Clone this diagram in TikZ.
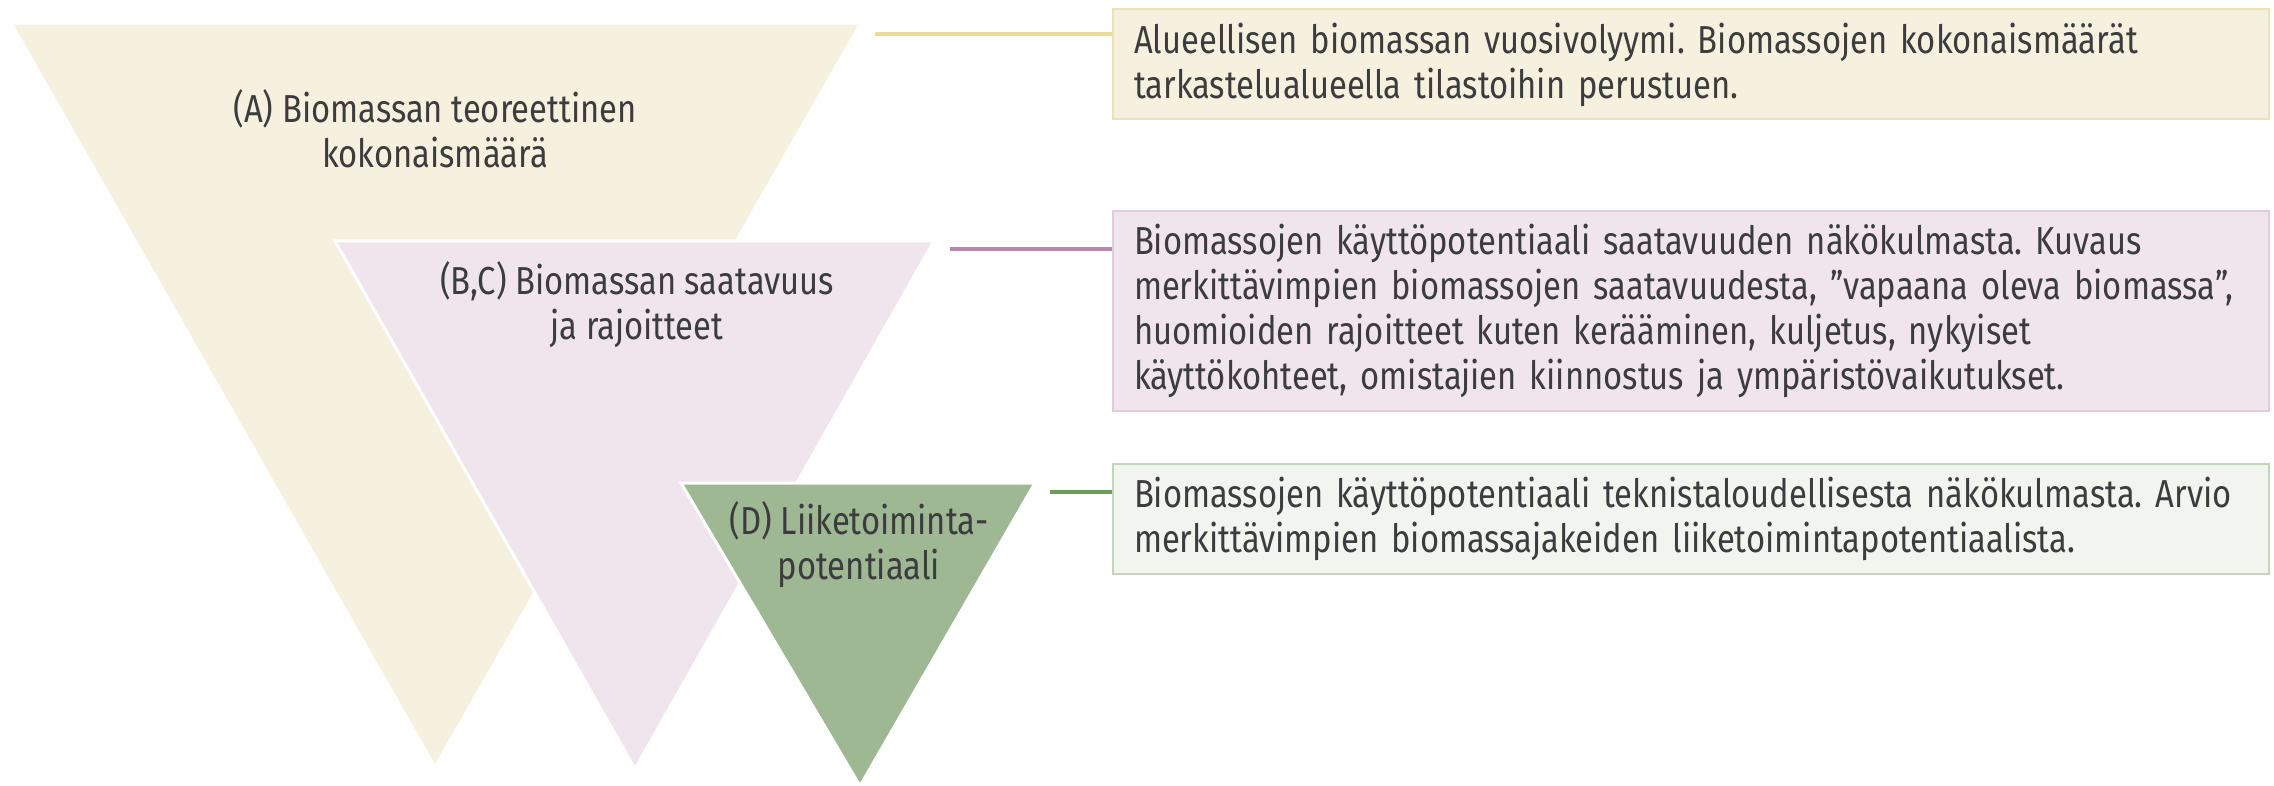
\documentclass[tikz,border=0pt]{standalone}
\usepackage{fontspec}
\setmainfont{Fira Sans}[FakeStretch=0.84]
\frenchspacing
\definecolor{txt}{HTML}{3C3C3E}
\definecolor{creamfill}{HTML}{F6F1DE}
\definecolor{creamline}{HTML}{E9DA9E}
\definecolor{creamedge}{HTML}{EEE3B8}
\definecolor{pinkfill}{HTML}{F0E5EC}
\definecolor{pinkline}{HTML}{B987AA}
\definecolor{pinkedge}{HTML}{E3CCDA}
\definecolor{greenfill}{HTML}{9DB892}
\definecolor{greenline}{HTML}{6B9A5C}
\definecolor{greenbox}{HTML}{F2F4F0}
\definecolor{greenedge}{HTML}{C3D5BB}
\tikzset{
  lbl/.style={text=txt, align=center, font=\fontsize{19.5}{22.5}\selectfont, inner sep=0pt},
  infobox/.style={anchor=north west, text=txt, align=left, line width=1pt,
    font=\fontsize{19.5}{22.5}\selectfont, inner xsep=10.5pt, inner ysep=0pt,
    minimum width=578pt, text width=557pt},
  link/.style={line width=1.8pt},
}
\begin{document}
\begin{tikzpicture}[x=0.5pt, y=-0.5pt]
\useasboundingbox (0,0) rectangle (2274,786);
% funnel stages
\fill[creamfill] (14,25) -- (858,25) -- (435,764) -- cycle;
\filldraw[pinkfill, draw=white, line width=1.5pt] (335,241) -- (934,241) -- (635,769) -- cycle;
\filldraw[greenfill, draw=white, line width=1.5pt] (681,483) -- (1035,483) -- (860,786) -- cycle;
% stage labels
\node[lbl] (la) at (435,129) {(A) Biomassan teoreettinen\\kokonaismäärä};
\node[lbl] (lb) at (637,305) {(B,C) Biomassan saatavuus\\ja rajoitteet};
\node[lbl] (ld) at (859,545) {(D) Liiketoiminta-\\potentiaali};
% description boxes
\node[infobox, fill=creamfill, draw=creamedge, minimum height=55pt] (ba) at (1112,8)
  {\rule{0pt}{16pt}Alueellisen biomassan vuosivolyymi. Biomassojen kokonaismäärät\\tarkastelualueella tilastoihin perustuen.};
\node[infobox, fill=pinkfill, draw=pinkedge, minimum height=100pt] (bb) at (1112,210)
  {\rule{0pt}{15pt}Biomassojen käyttöpotentiaali saatavuuden näkökulmasta. Kuvaus\\merkittävimpien biomassojen saatavuudesta, ”vapaana oleva biomassa”,\\huomioiden rajoitteet kuten kerääminen, kuljetus, nykyiset\\käyttökohteet, omistajien kiinnostus ja ympäristövaikutukset.};
\node[infobox, fill=greenbox, draw=greenedge, minimum height=55pt] (bd) at (1112,463)
  {Biomassojen käyttöpotentiaali teknistaloudellisesta näkökulmasta. Arvio\\merkittävimpien biomassajakeiden liiketoimintapotentiaalista.};
% connectors
\coordinate (ca) at (875,34);
\coordinate (cb) at (950,249);
\coordinate (cd) at (1050,492);
\draw[link, creamline] (ca) -- (ca -| ba.west);
\draw[link, pinkline] (cb) -- (cb -| bb.west);
\draw[link, greenline] (cd) -- (cd -| bd.west);
\end{tikzpicture}
\end{document}
